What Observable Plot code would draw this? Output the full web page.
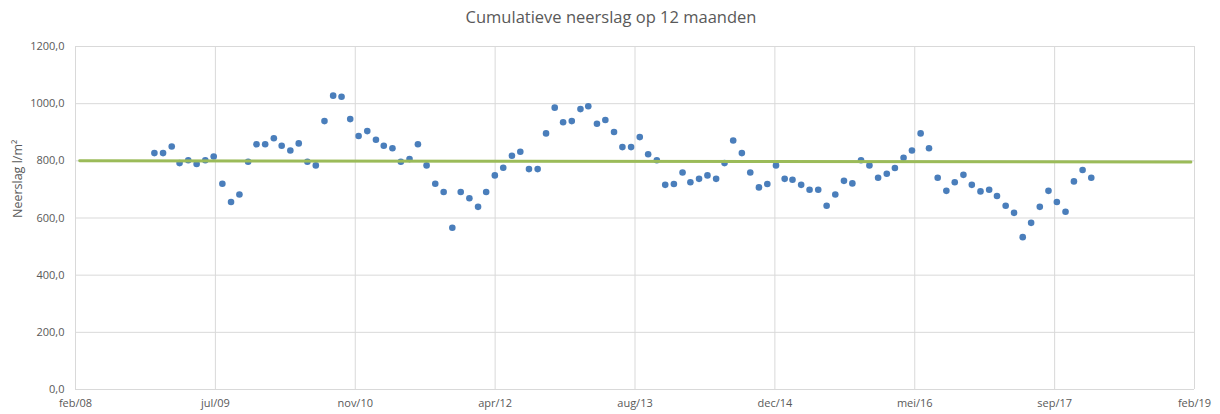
<!DOCTYPE html>
<html>
<head>
<meta charset="utf-8">
<script src="https://cdn.jsdelivr.net/npm/d3@7"></script>
<script src="https://cdn.jsdelivr.net/npm/@observablehq/plot@0.6"></script>
<style>
  html, body { margin: 0; padding: 0; background: white; }
  #wrap { position: relative; width: 1220px; height: 414px; }
  #title { position: absolute; top: 5px; left: 0; width: 1222px; text-align: center;
           font-family: "Open Sans", sans-serif; font-size: 16.5px; color: #595959; }
  #chart { position: absolute; top: 0; left: 0; }
</style>
</head>
<body>
<div id="wrap">
  <div id="chart"></div>
  <div id="title">Cumulatieve neerslag op 12 maanden</div>
</div>
<script>
// Chart title and axis label
const title = "Cumulatieve neerslag op 12 maanden";
const yLabel = "Neerslag l/m²";

// First month of the series (monthly, month-end values) and the values in l/m²
const firstMonth = "2008-11";
const values = [
  827, 827, 850, 792, 802, 789, 802, 815, 720, 656, 682, 797,
  858, 858, 879, 853, 836, 861, 797, 784, 939, 1028, 1024, 946,
  887, 904, 874, 853, 844, 797, 806, 858, 784, 720, 691, 566,
  691, 669, 639, 691, 749, 776, 818, 832, 771, 771, 896, 986,
  935, 939, 981, 991, 930, 943, 901, 848, 848, 883, 823, 802,
  716, 719, 759, 725, 737, 749, 737, 792, 871, 827, 759, 707,
  719, 784, 737, 734, 716, 699, 699, 643, 682, 730, 721, 802,
  784, 741, 755, 775, 811, 836, 896, 844, 741, 695, 725, 751,
  716, 693, 699, 677, 643, 618, 533, 583, 639, 695, 656, 622,
  728, 768, 741
];

// Trend line (green)
const trendDates = ["2008-03-08", "2019-01-22"];
const trendValues = [800, 796];

// X axis: Excel date serials of the ticks and their labels
const xTickSerials = [39500, 40000, 40500, 41000, 41500, 42000, 42500, 43000, 43500];
const xTickLabels = ["feb/08", "jul/09", "nov/10", "apr/12", "aug/13", "dec/14", "mei/16", "sep/17", "feb/19"];
const yTicks = [0, 200, 400, 600, 800, 1000, 1200];

// ---- build tables ----
const serialToDate = s => new Date((s - 25569) * 86400000);
const xTicks = xTickSerials.map(serialToDate);
const labelMap = new Map(xTicks.map((d, i) => [+d, xTickLabels[i]]));
const start = d3.utcParse("%Y-%m")(firstMonth);
const data = values.map((v, i) => ({
  date: d3.utcDay.offset(d3.utcMonth.offset(start, i + 1), -1),
  value: v
}));
const trend = trendDates.map((d, i) => ({date: d3.utcParse("%Y-%m-%d")(d), value: trendValues[i]}));

document.getElementById("title").textContent = title;

const chart = Plot.plot({
  width: 1220,
  height: 414,
  marginLeft: 75,
  marginRight: 26,
  marginTop: 46,
  marginBottom: 25,
  style: {fontFamily: "Open Sans, sans-serif", fontSize: "11px", color: "#595959", background: "white"},
  x: {type: "utc", domain: [xTicks[0], xTicks[xTicks.length - 1]]},
  y: {domain: [0, 1200]},
  marks: [
    Plot.gridX({ticks: xTicks, stroke: "#d9d9d9", strokeOpacity: 1}),
    Plot.gridY({ticks: yTicks, stroke: "#d9d9d9", strokeOpacity: 1}),
    Plot.axisX({ticks: xTicks, tickFormat: d => labelMap.get(+d), tickSize: 0, tickPadding: 10, label: null}),
    Plot.axisY({ticks: yTicks, tickFormat: d => d.toFixed(1).replace(".", ","), tickSize: 0, tickPadding: 11, label: null}),
    Plot.text([yLabel], {text: d => d, frameAnchor: "left", rotate: -90, dx: -58, fontSize: 12.5, fill: "#595959"}),
    Plot.dot(data, {x: "date", y: "value", r: 3.3, fill: "#4a7ebb", stroke: "none"}),
    Plot.line(trend, {x: "date", y: "value", stroke: "#9bbb59", strokeWidth: 3})
  ]
});
document.getElementById("chart").appendChild(chart);
</script>
</body>
</html>
